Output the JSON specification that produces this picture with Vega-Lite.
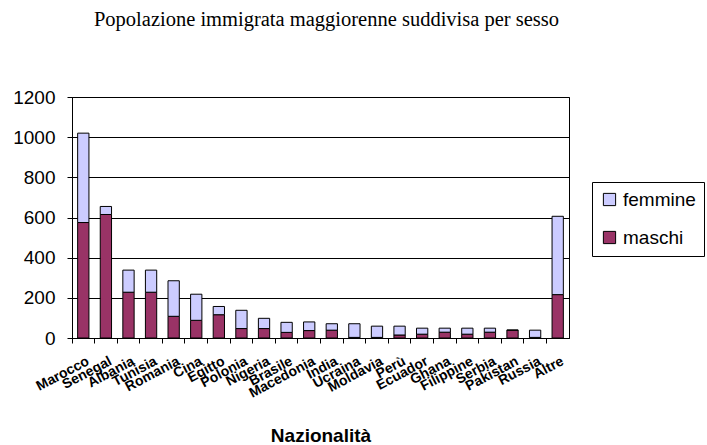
{
  "$schema": "https://vega.github.io/schema/vega-lite/v6.json",
  "autosize": "none",
  "width": 497,
  "height": 241,
  "padding": {"left": 72, "top": 97, "right": 138, "bottom": 107},
  "background": "white",
  "title": {
    "text": "Popolazione immigrata maggiorenne suddivisa per sesso",
    "font": "Liberation Serif",
    "fontSize": 20.5,
    "fontWeight": "normal",
    "color": "black",
    "anchor": "middle",
    "frame": "group",
    "offset": 58,
    "dx": 6
  },
  "config": {
    "view": {"stroke": "black", "strokeWidth": 1},
    "font": "Liberation Sans"
  },
  "data": {
    "values": [
      {"naz": "Marocco", "sesso": "maschi", "valore": 575},
      {"naz": "Marocco", "sesso": "femmine", "valore": 445},
      {"naz": "Senegal", "sesso": "maschi", "valore": 615},
      {"naz": "Senegal", "sesso": "femmine", "valore": 40},
      {"naz": "Albania", "sesso": "maschi", "valore": 228},
      {"naz": "Albania", "sesso": "femmine", "valore": 110},
      {"naz": "Tunisia", "sesso": "maschi", "valore": 228},
      {"naz": "Tunisia", "sesso": "femmine", "valore": 110},
      {"naz": "Romania", "sesso": "maschi", "valore": 108},
      {"naz": "Romania", "sesso": "femmine", "valore": 177},
      {"naz": "Cina", "sesso": "maschi", "valore": 88},
      {"naz": "Cina", "sesso": "femmine", "valore": 130},
      {"naz": "Egitto", "sesso": "maschi", "valore": 116},
      {"naz": "Egitto", "sesso": "femmine", "valore": 41},
      {"naz": "Polonia", "sesso": "maschi", "valore": 47},
      {"naz": "Polonia", "sesso": "femmine", "valore": 91},
      {"naz": "Nigeria", "sesso": "maschi", "valore": 47},
      {"naz": "Nigeria", "sesso": "femmine", "valore": 51},
      {"naz": "Brasile", "sesso": "maschi", "valore": 28},
      {"naz": "Brasile", "sesso": "femmine", "valore": 50},
      {"naz": "Macedonia", "sesso": "maschi", "valore": 37},
      {"naz": "Macedonia", "sesso": "femmine", "valore": 43},
      {"naz": "India", "sesso": "maschi", "valore": 39},
      {"naz": "India", "sesso": "femmine", "valore": 32},
      {"naz": "Ucraina", "sesso": "maschi", "valore": 3},
      {"naz": "Ucraina", "sesso": "femmine", "valore": 68},
      {"naz": "Moldavia", "sesso": "maschi", "valore": 3},
      {"naz": "Moldavia", "sesso": "femmine", "valore": 56},
      {"naz": "Perù", "sesso": "maschi", "valore": 15},
      {"naz": "Perù", "sesso": "femmine", "valore": 44},
      {"naz": "Ecuador", "sesso": "maschi", "valore": 19},
      {"naz": "Ecuador", "sesso": "femmine", "valore": 30},
      {"naz": "Ghana", "sesso": "maschi", "valore": 29},
      {"naz": "Ghana", "sesso": "femmine", "valore": 20},
      {"naz": "Filippine", "sesso": "maschi", "valore": 19},
      {"naz": "Filippine", "sesso": "femmine", "valore": 30},
      {"naz": "Serbia", "sesso": "maschi", "valore": 29},
      {"naz": "Serbia", "sesso": "femmine", "valore": 20},
      {"naz": "Pakistan", "sesso": "maschi", "valore": 39},
      {"naz": "Pakistan", "sesso": "femmine", "valore": 0},
      {"naz": "Russia", "sesso": "maschi", "valore": 3},
      {"naz": "Russia", "sesso": "femmine", "valore": 36},
      {"naz": "Altre", "sesso": "maschi", "valore": 216},
      {"naz": "Altre", "sesso": "femmine", "valore": 390}
    ]
  },
  "mark": {"type": "bar", "stroke": "black", "strokeWidth": 1},
  "encoding": {
    "x": {
      "field": "naz",
      "type": "nominal",
      "sort": null,
      "scale": {"paddingInner": 0.5, "paddingOuter": 0.25},
      "axis": {
        "title": "Nazionalità",
        "titleFont": "Liberation Sans",
        "titleFontSize": 19,
        "titleFontWeight": "bold",
        "titleColor": "black",
        "titleY": 103,
        "titleBaseline": "alphabetic",
        "bandPosition": -0.5,
        "labelOffset": 5,
        "labelAngle": -28,
        "labelAlign": "right",
        "labelBaseline": "middle",
        "labelFont": "Liberation Sans",
        "labelFontSize": 14,
        "labelFontWeight": "bold",
        "labelColor": "black",
        "labelOverlap": false,
        "labelPadding": 17,
        "domainColor": "black",
        "tickColor": "black",
        "tickSize": 5,
        "grid": false
      }
    },
    "y": {
      "field": "valore",
      "type": "quantitative",
      "stack": "zero",
      "scale": {"domain": [0, 1200], "nice": false},
      "axis": {
        "title": null,
        "values": [0, 200, 400, 600, 800, 1000, 1200],
        "format": "d",
        "labelFont": "Liberation Sans",
        "labelFontSize": 19,
        "labelColor": "black",
        "labelPadding": 12,
        "domainColor": "black",
        "tickColor": "black",
        "tickSize": 5,
        "grid": true,
        "gridColor": "black",
        "gridWidth": 1
      }
    },
    "color": {
      "field": "sesso",
      "type": "nominal",
      "scale": {"domain": ["femmine", "maschi"], "range": ["#CCCCFF", "#993366"]},
      "legend": {
        "title": null,
        "orient": "none",
        "legendX": 520,
        "legendY": 85,
        "strokeColor": "black",
        "padding": 8,
        "symbolType": "square",
        "symbolSize": 150,
        "symbolStrokeColor": "black",
        "symbolStrokeWidth": 1,
        "symbolOpacity": 1,
        "labelFont": "Liberation Sans",
        "labelFontSize": 19,
        "labelColor": "black",
        "rowPadding": 18,
        "labelOffset": 4
      }
    },
    "order": {"field": "sesso", "sort": "descending"}
  }
}
